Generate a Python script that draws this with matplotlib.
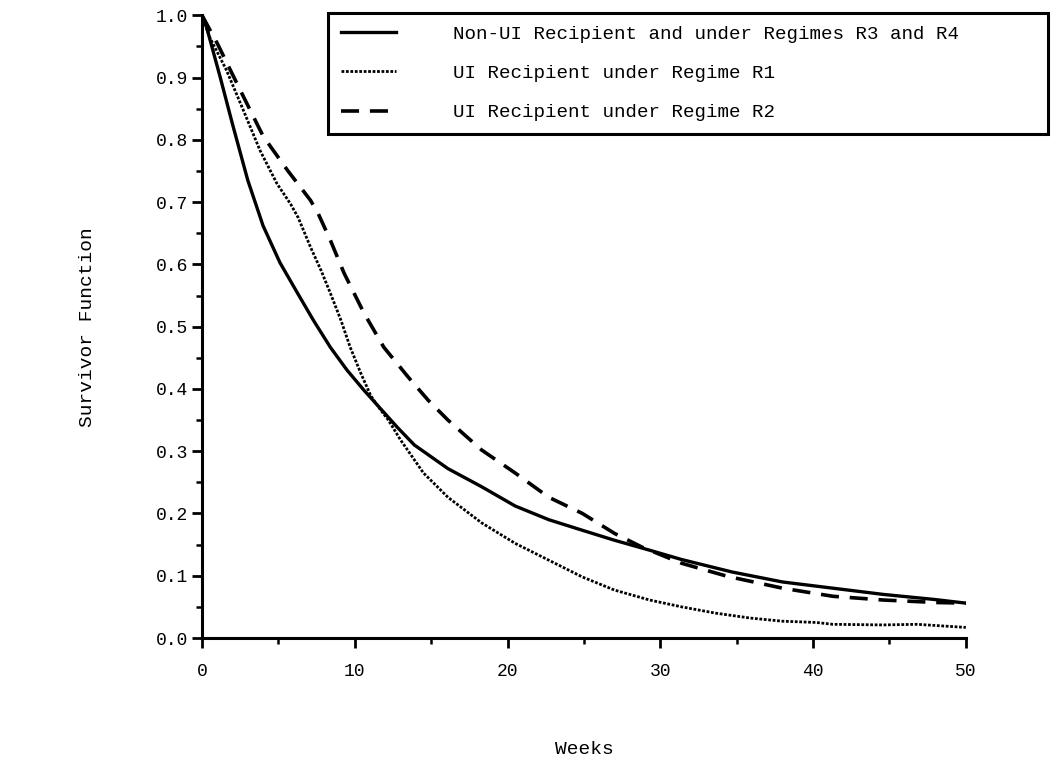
import numpy as np
import matplotlib
matplotlib.use("Agg")
import matplotlib.pyplot as plt

plt.rcParams['font.family'] = ['Liberation Mono', 'DejaVu Sans Mono']

# Survivor function estimates
weeks_solid = [0, 0.2, 1.2, 2.0, 3.0, 4.0, 5.1, 6.25, 7.3, 8.4, 9.5, 10.6, 11.7, 12.8,
               13.9, 16.1, 18.3, 20.5, 22.7, 24.9, 27.0, 29.3, 31.4, 34.7, 38.0, 41.3,
               44.6, 47.9, 50]
surv_solid = [1.0, 0.99, 0.9, 0.825, 0.735, 0.662, 0.603, 0.554, 0.51, 0.467, 0.43, 0.398,
              0.368, 0.338, 0.31, 0.272, 0.243, 0.212, 0.19, 0.173, 0.157, 0.141, 0.126,
              0.106, 0.09, 0.08, 0.07, 0.062, 0.056]

weeks_dotted = [0, 0.5, 1.6, 2.7, 3.8, 4.9, 5.8, 6.3, 7.1, 7.8, 8.4, 9.1, 9.7, 10.4,
                11.05, 11.7, 12.2, 13.0, 14.5, 16.1, 18.3, 20.5, 22.7, 24.9, 27.0, 29.3,
                31.4, 33.6, 35.9, 38.0, 40.2, 41.3, 44.6, 46.8, 50]
surv_dotted = [1.0, 0.965, 0.912, 0.848, 0.783, 0.73, 0.697, 0.675, 0.628, 0.59, 0.554,
               0.51, 0.467, 0.425, 0.389, 0.366, 0.35, 0.318, 0.265, 0.226, 0.185, 0.152,
               0.125, 0.098, 0.077, 0.061, 0.05, 0.04, 0.032, 0.027, 0.025, 0.022, 0.021,
               0.022, 0.017]

weeks_dashed = [0, 1.0, 2.5, 4.0, 5.6, 7.1, 7.6, 8.4, 9.3, 10.6, 11.9, 13.5, 14.8, 16.1,
                18.3, 20.5, 22.7, 24.9, 27.0, 28.8, 31.4, 34.4, 38.0, 41.3, 44.6, 48.1, 50]
surv_dashed = [1.0, 0.955, 0.88, 0.806, 0.751, 0.703, 0.682, 0.639, 0.586, 0.522, 0.467,
               0.419, 0.382, 0.35, 0.302, 0.265, 0.226, 0.2, 0.168, 0.146, 0.12, 0.099,
               0.08, 0.067, 0.061, 0.057, 0.056]

labels = ['Non-UI Recipient and under Regimes R3 and R4',
          'UI Recipient under Regime R1',
          'UI Recipient under Regime R2']

fig = plt.figure(figsize=(10.58, 7.65), dpi=100)
ax = fig.add_axes([0.1909, 0.166, 0.722, 0.814])

ax.plot(weeks_solid, surv_solid, color='black', lw=2.4, label=labels[0])
ax.plot(weeks_dotted, surv_dotted, color='black', lw=2.0, ls=(0, (1, 0.6)), label=labels[1])
ax.plot(weeks_dashed, surv_dashed, color='black', lw=2.6, ls=(0, (5, 3)), label=labels[2])

ax.set_xlim(0, 50)
ax.set_ylim(0, 1.0)
ax.set_xticks(np.arange(0, 51, 10))
ax.set_xticks(np.arange(5, 50, 10), minor=True)
ax.set_yticks(np.arange(0, 1.01, 0.1))
ax.set_yticks(np.arange(0.05, 1.0, 0.1), minor=True)
ax.set_yticklabels([f'{v:.1f}' for v in np.arange(0, 1.01, 0.1)])

for side in ['top', 'right']:
    ax.spines[side].set_visible(False)
for side in ['left', 'bottom']:
    ax.spines[side].set_linewidth(2.2)

ax.tick_params(axis='both', which='major', direction='out', length=7, width=2,
               labelsize=13)
ax.tick_params(axis='both', which='minor', direction='out', length=4, width=1.8)
ax.tick_params(axis='x', which='major', pad=11)
ax.tick_params(axis='y', which='major', pad=3)

ax.set_xlabel('Weeks', fontsize=14)
ax.xaxis.set_label_coords(0.500, -0.165)
ax.set_ylabel('Survivor Function', fontsize=14)
ax.yaxis.set_label_coords(-0.139, 0.5)

leg = fig.legend(loc='upper left', bbox_to_anchor=(328 / 1058, 1 - 13 / 765, 720 / 1058, 0),
                 mode='expand', borderaxespad=0, fontsize=13.8, handlelength=2.9,
                 handletextpad=2.95, labelspacing=1.13, borderpad=0.66,
                 fancybox=False, framealpha=1, edgecolor='black')
leg.get_frame().set_linewidth(2.2)

fig.savefig('out.png', dpi=100)
